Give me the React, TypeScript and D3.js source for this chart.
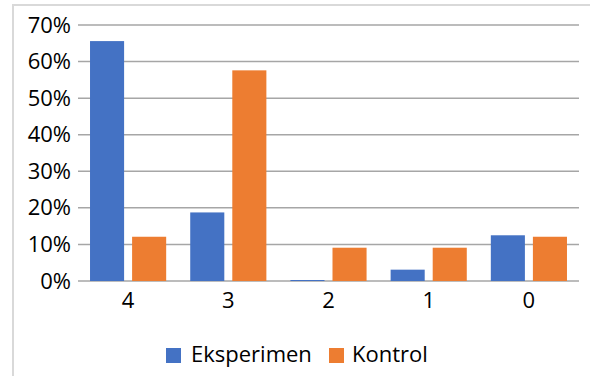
import React from "react";
import * as d3 from "d3";

const categories = ["4", "3", "2", "1", "0"];
const eksperimen = [0.656, 0.1875, 0, 0.031, 0.125];
const kontrol = [0.121, 0.576, 0.091, 0.091, 0.121];
const yTicks = [0, 0.1, 0.2, 0.3, 0.4, 0.5, 0.6, 0.7];
const seriesNames = ["Eksperimen", "Kontrol"];
const colors = ["#4472C4", "#ED7D31"];

export default function App() {
  const W = 590, H = 376;
  const left = 78, right = 579, top = 25, bottom = 281;
  const x0 = d3.scaleBand().domain(categories).range([left, right]).paddingInner(0).paddingOuter(0);
  const bw = x0.bandwidth();
  const x1 = d3.scaleBand().domain(seriesNames).range([bw * 0.12, bw * 0.88]).paddingInner(0.19).paddingOuter(0);
  const y = d3.scaleLinear().domain([0, 0.7]).range([bottom, top]);
  const font = "'Open Sans', sans-serif";
  const data = [eksperimen, kontrol];
  return (
    <svg width={W} height={H} style={{ position: "absolute", left: 0, top: 0, background: "#fff" }}>
      <rect x={13} y={5} width={600} height={400} fill="#fff" stroke="#d9d9d9" strokeWidth={2} />
      {yTicks.map((t) => (
        <g key={t}>
          <line x1={left} x2={right} y1={y(t)} y2={y(t)} stroke="#a6a6a6" strokeWidth={1.5} />
          <text x={71} y={y(t) + 7.5} textAnchor="end" fontFamily={font} fontSize={22} fill="#000">
            {d3.format(".0%")(t)}
          </text>
        </g>
      ))}
      {categories.map((c, i) => (
        <g key={c}>
          {data.map((s, j) => {
            const v = s[i];
            const bx = (x0(c) as number) + (x1(seriesNames[j]) as number);
            const h = Math.max(bottom - y(v), v === 0 ? 1 : 0);
            return <rect key={j} x={bx} y={bottom - h} width={x1.bandwidth()} height={h} fill={colors[j]} />;
          })}
          <text x={(x0(c) as number) + bw / 2} y={308} textAnchor="middle" fontFamily={font} fontSize={22} fill="#000">
            {c}
          </text>
        </g>
      ))}
      <rect x={166} y={348} width={15} height={15} fill={colors[0]} />
      <text x={191} y={362} fontFamily={font} fontSize={22} fill="#000">{seriesNames[0]}</text>
      <rect x={329} y={348} width={15} height={15} fill={colors[1]} />
      <text x={352} y={362} fontFamily={font} fontSize={22} fill="#000">{seriesNames[1]}</text>
    </svg>
  );
}
